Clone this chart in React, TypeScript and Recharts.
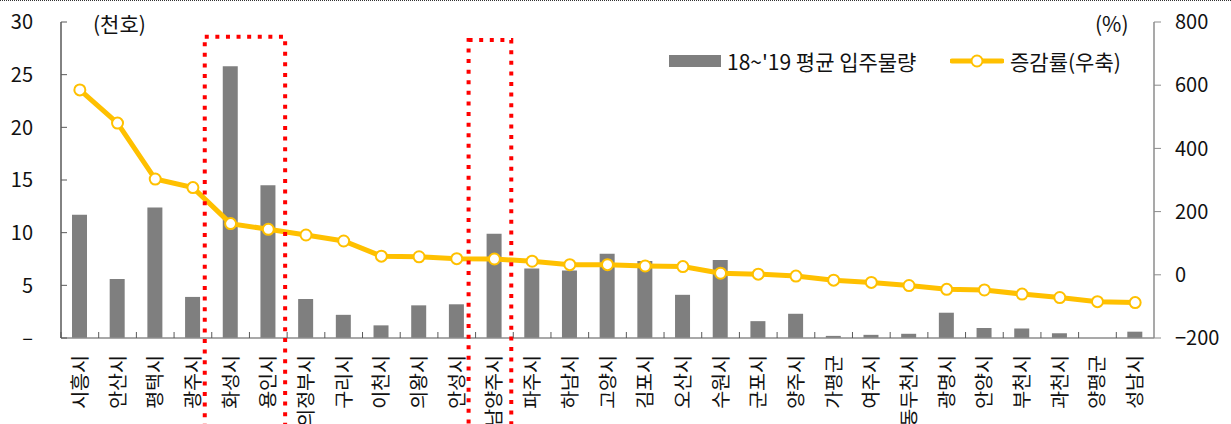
import { ComposedChart, Bar, Line, XAxis, YAxis, ReferenceArea } from "recharts";

// 경기도 시군별 입주물량(천호)과 증감률(%)
const cities = [
  "시흥시", "안산시", "평택시", "광주시", "화성시", "용인시", "의정부시", "구리시", "이천시", "의왕시",
  "안성시", "남양주시", "파주시", "하남시", "고양시", "김포시", "오산시", "수원시", "군포시", "양주시",
  "가평군", "여주시", "동두천시", "광명시", "안양시", "부천시", "과천시", "양평군", "성남시",
];
const avgSupply = [
  11.7, 5.6, 12.4, 3.9, 25.8, 14.5, 3.7, 2.2, 1.2, 3.1,
  3.2, 9.9, 6.6, 6.4, 8.0, 7.3, 4.1, 7.4, 1.6, 2.3,
  0.2, 0.3, 0.4, 2.4, 0.95, 0.9, 0.45, 0, 0.6,
];
const changeRate = [
  585, 480, 303, 276, 162, 144, 126, 107, 59, 57,
  51, 50, 43, 32, 32, 28, 26, 5, 2, -4,
  -17, -24, -34, -46, -48, -61, -72, -85, -88,
];
const leftTicks = [0, 5, 10, 15, 20, 25, 30];
const rightTicks = [-200, 0, 200, 400, 600, 800];
const highlights = [
  { from: "화성시", to: "용인시", top: 28.6 },
  { from: "남양주시", to: "남양주시", top: 28.3 },
];

const W = 1231;
const H = 424;
const LEFT_W = 61;
const RIGHT_W = 77;
const step = (W - LEFT_W - RIGHT_W) / cities.length;

const BAR = "#7f7f7f";
const LINE = "#FFC000";
const FONT = "'Noto Sans CJK KR', 'Noto Sans', sans-serif";

const data = cities.map((city, i) => ({ city, supply: avgSupply[i], rate: changeRate[i] }));

const CityTick = ({ x, y, payload }: any) => (
  <g>
    <line x1={x - step / 2} x2={x - step / 2} y1={y - 6} y2={y} stroke="#595959" />
    <text
      transform={`translate(${x},${y + 17}) rotate(-90)`}
      textAnchor="end"
      dy="0.36em"
      fontSize={19.5}
      fill="#111"
    >
      {payload.value}
    </text>
  </g>
);

const LeftTick = ({ x, y, payload }: any) => (
  <g>
    <line x1={x} x2={x + 6} y1={y} y2={y} stroke="#595959" />
    <text x={x - 28} y={y} dy="0.36em" textAnchor="end" fontSize={20} fill="#111">
      {payload.value === 0 ? "–" : payload.value}
    </text>
  </g>
);

const RightTick = ({ x, y, payload }: any) => (
  <g>
    <line x1={x} x2={x + 7} y1={y} y2={y} stroke="#8c8c8c" />
    <text x={x + 21} y={y} dy="0.36em" textAnchor="start" fontSize={20} fill="#111">
      {payload.value < 0 ? `−${Math.abs(payload.value)}` : payload.value}
    </text>
  </g>
);

const DottedBox = ({ x, y, width, height }: any) => (
  <rect
    x={x - 7}
    y={y}
    width={width + 5}
    height={height}
    fill="none"
    stroke="#ff0000"
    strokeWidth={4}
    strokeDasharray="4 6.6"
  />
);

const LegendRow = () => (
  <div style={{ position: "absolute", top: 0, left: 0, fontSize: 21, color: "#111" }}>
    <span style={{ position: "absolute", left: 669, top: 55, width: 52, height: 12, background: BAR }} />
    <span style={{ position: "absolute", left: 727, top: 46, whiteSpace: "nowrap" }}>18~'19 평균 입주물량</span>
    <svg width={54} height={14} style={{ position: "absolute", left: 950, top: 54 }}>
      <line x1={2} x2={52} y1={7} y2={7} stroke={LINE} strokeWidth={5} strokeLinecap="round" />
      <circle cx={27} cy={7} r={5.5} fill="#fff" stroke={LINE} strokeWidth={2} />
    </svg>
    <span style={{ position: "absolute", left: 1010, top: 46, whiteSpace: "nowrap" }}>증감률(우축)</span>
  </div>
);

export default function App() {
  return (
    <div style={{ position: "absolute", left: 0, top: 0, width: W, height: H, fontFamily: FONT, background: "#fff", overflow: "hidden" }}>
      <div style={{ position: "absolute", left: 0, top: 0, width: W, borderTop: "1px dotted #333" }} />
      <ComposedChart width={W} height={H} data={data} margin={{ top: 22, right: 0, left: 0, bottom: 0 }}>
        <XAxis
          dataKey="city"
          height={86}
          interval={0}
          axisLine={{ stroke: "#8c8c8c", strokeWidth: 1.5 }}
          tickLine={false}
          tickSize={0}
          tickMargin={0}
          tick={<CityTick />}
        />
        <YAxis
          yAxisId="left"
          orientation="left"
          width={LEFT_W}
          domain={[0, 30]}
          ticks={leftTicks}
          axisLine={{ stroke: "#595959", strokeWidth: 1.5 }}
          tickLine={false}
          tickSize={0}
          tickMargin={0}
          tick={<LeftTick />}
        />
        <YAxis
          yAxisId="right"
          orientation="right"
          width={RIGHT_W}
          domain={[-200, 800]}
          ticks={rightTicks}
          axisLine={{ stroke: "#8c8c8c", strokeWidth: 1.5 }}
          tickLine={false}
          tickSize={0}
          tickMargin={0}
          tick={<RightTick />}
        />
        <Bar yAxisId="left" dataKey="supply" fill={BAR} barSize={15} isAnimationActive={false} />
        <Line
          yAxisId="right"
          dataKey="rate"
          type="linear"
          stroke={LINE}
          strokeWidth={5}
          dot={{ r: 5.5, fill: "#fff", stroke: LINE, strokeWidth: 2 }}
          activeDot={false}
          isAnimationActive={false}
        />
        {highlights.map((h) => (
          <ReferenceArea
            key={h.from}
            yAxisId="left"
            x1={h.from}
            x2={h.to}
            y1={-9}
            y2={h.top}
            ifOverflow="visible"
            shape={<DottedBox />}
            zIndex={1500}
          />
        ))}
      </ComposedChart>
      <div style={{ position: "absolute", left: 93, top: 8, fontSize: 21, color: "#111" }}>(천호)</div>
      <div style={{ position: "absolute", left: 1095, top: 8, fontSize: 21, color: "#111" }}>(%)</div>
      <LegendRow />
    </div>
  );
}
